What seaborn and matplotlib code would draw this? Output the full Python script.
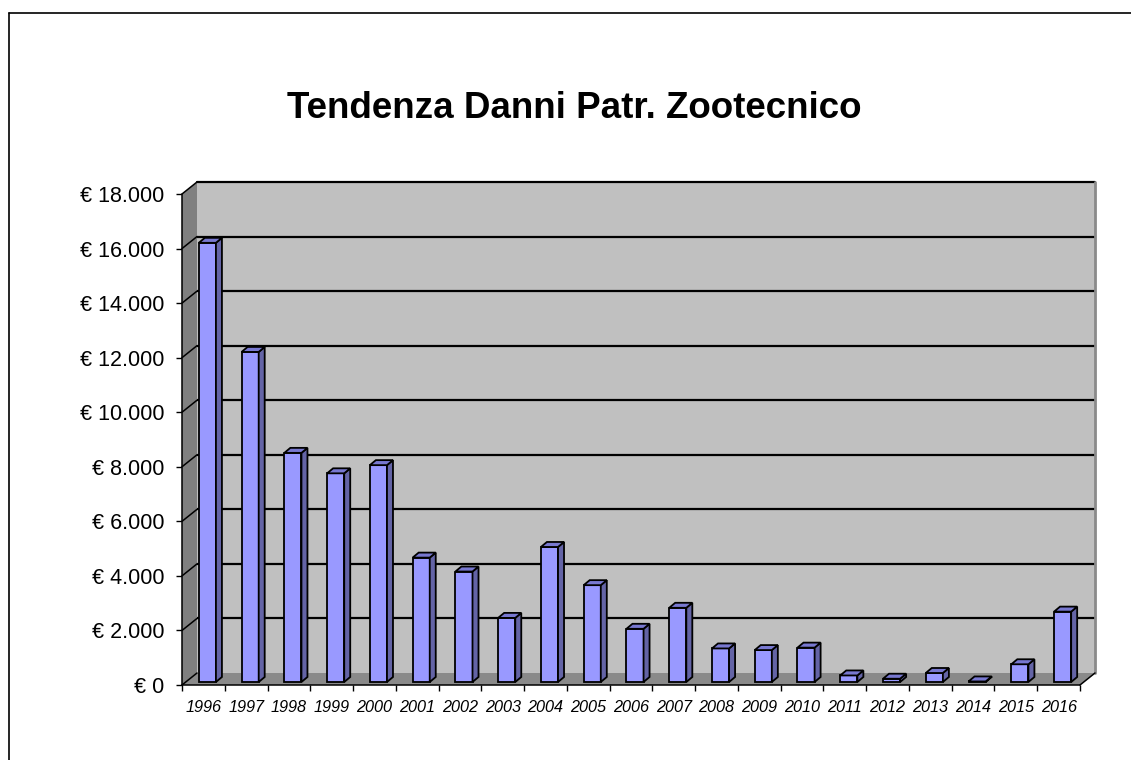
import matplotlib
matplotlib.use("Agg")
import matplotlib.pyplot as plt
import matplotlib.transforms as mtrans
from matplotlib.patches import Polygon, Rectangle
from matplotlib.lines import Line2D
import seaborn as sns
import pandas as pd

years = ["1996", "1997", "1998", "1999", "2000", "2001", "2002", "2003", "2004",
         "2005", "2006", "2007", "2008", "2009", "2010", "2011", "2012", "2013",
         "2014", "2015", "2016"]
damages = [16100, 12100, 8400, 7650, 7950, 4560, 4050, 2350, 4950,
           3550, 1950, 2720, 1230, 1170, 1260, 240, 120, 330,
           20, 650, 2580]
y_ticks = [0, 2000, 4000, 6000, 8000, 10000, 12000, 14000, 16000, 18000]
title = "Tendenza Danni Patr. Zootecnico"

sns.set_style("white")
plt.rcParams["font.family"] = ["Liberation Sans", "DejaVu Sans"]

W, H, DPI = 1131, 760, 100
fig = plt.figure(figsize=(W / DPI, H / DPI), dpi=DPI)

# front plane of the 3D box, in pixels
ax_l, ax_r, ax_t, ax_b = 182, 1080, 194, 685
ax = fig.add_axes([ax_l / W, (H - ax_b) / H, (ax_r - ax_l) / W, (ax_b - ax_t) / H])

df = pd.DataFrame({"year": years, "value": damages})
sns.barplot(data=df, x="year", y="value", ax=ax, color="#9999ff",
            width=0.4, edgecolor="black", linewidth=1.3, saturation=1, zorder=5)
bars = list(ax.patches)

ncat = len(years)
ymax = y_ticks[-1]
ax.set_xlim(-0.5, ncat - 0.5)
ax.set_ylim(0, ymax)
for s in ax.spines.values():
    s.set_visible(False)
ax.set_facecolor("none")
ax.set_xlabel("")
ax.set_ylabel("")

px_x = (ax_r - ax_l) / ncat      # pixels per category
px_y = (ax_b - ax_t) / ymax      # pixels per unit value

# wall depth
wx, wy = 15 / px_x, 12 / px_y
x0, x1 = -0.5, ncat - 0.5

# back wall
ax.add_patch(Rectangle((x0 + wx, wy), x1 - x0, ymax, facecolor="#c0c0c0",
                       edgecolor="none", zorder=0, clip_on=False))
ax.add_line(Line2D([x1 + wx, x1 + wx], [wy, ymax + wy], color="#8a8a8a",
                   lw=2.0, zorder=0.6, clip_on=False))
# left wall
ax.add_patch(Polygon([(x0, 0), (x0, ymax), (x0 + wx, ymax + wy), (x0 + wx, wy)],
                     closed=True, facecolor="#808080", edgecolor="none",
                     zorder=1, clip_on=False))
# floor
ax.add_patch(Polygon([(x0, 0), (x1, 0), (x1 + wx, wy), (x0 + wx, wy)],
                     closed=True, facecolor="#8a8a8a", edgecolor="none",
                     zorder=1, clip_on=False))
# gridlines on back wall + left wall
for v in y_ticks:
    if v > 0:
        ax.add_line(Line2D([x0 + wx, x1 + wx], [v + wy, v + wy], color="black",
                           lw=1.6, zorder=0.5, clip_on=False))
    ax.add_line(Line2D([x0, x0 + wx], [v, v + wy], color="black",
                       lw=1.1, zorder=2, clip_on=False))
# edges of the box
ax.add_line(Line2D([x0, x0], [0, ymax], color="black", lw=1.1, zorder=2, clip_on=False))
ax.add_line(Line2D([x0, x1], [0, 0], color="black", lw=1.1, zorder=2, clip_on=False))
ax.add_line(Line2D([x1, x1 + wx], [0, wy], color="black", lw=1.1, zorder=2, clip_on=False))

# 3D bars: shift front face into the depth, add side and top faces
shift = ax.transData + mtrans.ScaledTranslation(4 / DPI, 3 / DPI, fig.dpi_scale_trans)
bx, by = 6 / px_x, 5 / px_y
for p in bars:
    p.set_transform(shift)
    p.set_clip_on(False)
    x = p.get_x()
    w = p.get_width()
    h = p.get_height()
    side = Polygon([(x + w, 0), (x + w + bx, by), (x + w + bx, h + by), (x + w, h)],
                   closed=True, facecolor="#6464a6", edgecolor="black",
                   linewidth=1.3, zorder=5, transform=shift, clip_on=False)
    top = Polygon([(x, h), (x + w, h), (x + w + bx, h + by), (x + bx, h + by)],
                  closed=True, facecolor="#7878d0", edgecolor="black",
                  linewidth=1.3, zorder=5, transform=shift, clip_on=False)
    ax.add_patch(side)
    ax.add_patch(top)

# y axis
ax.set_yticks(y_ticks)
ax.set_yticklabels(["€ " + f"{v:,}".replace(",", ".") for v in y_ticks])
ax.tick_params(axis="y", left=True, length=4.5, width=1.0, color="black",
               pad=8, labelsize=15.5, labelcolor="black")

# x axis
ax.set_xticks(range(ncat))
ax.set_xticklabels(years, fontstyle="italic")
ax.set_xticks([i - 0.5 for i in range(ncat + 1)], minor=True)
ax.tick_params(axis="x", which="major", bottom=True, length=0, pad=11,
               labelsize=11.7, labelcolor="black")
ax.tick_params(axis="x", which="minor", bottom=True, length=4, width=1.0,
               color="black")

# title
fig.text(0.508, (H - 108) / H, title, ha="center", va="center",
         fontsize=26.5, fontweight="bold", color="black")

# figure border (partially visible)
fig.add_artist(Line2D([9 / W, 9 / W], [0, 1 - 13 / H], color="black", lw=1.2,
                      transform=fig.transFigure))
fig.add_artist(Line2D([9 / W, 1], [1 - 13 / H, 1 - 13 / H], color="black", lw=1.2,
                      transform=fig.transFigure))

fig.savefig("out.png", dpi=DPI)
